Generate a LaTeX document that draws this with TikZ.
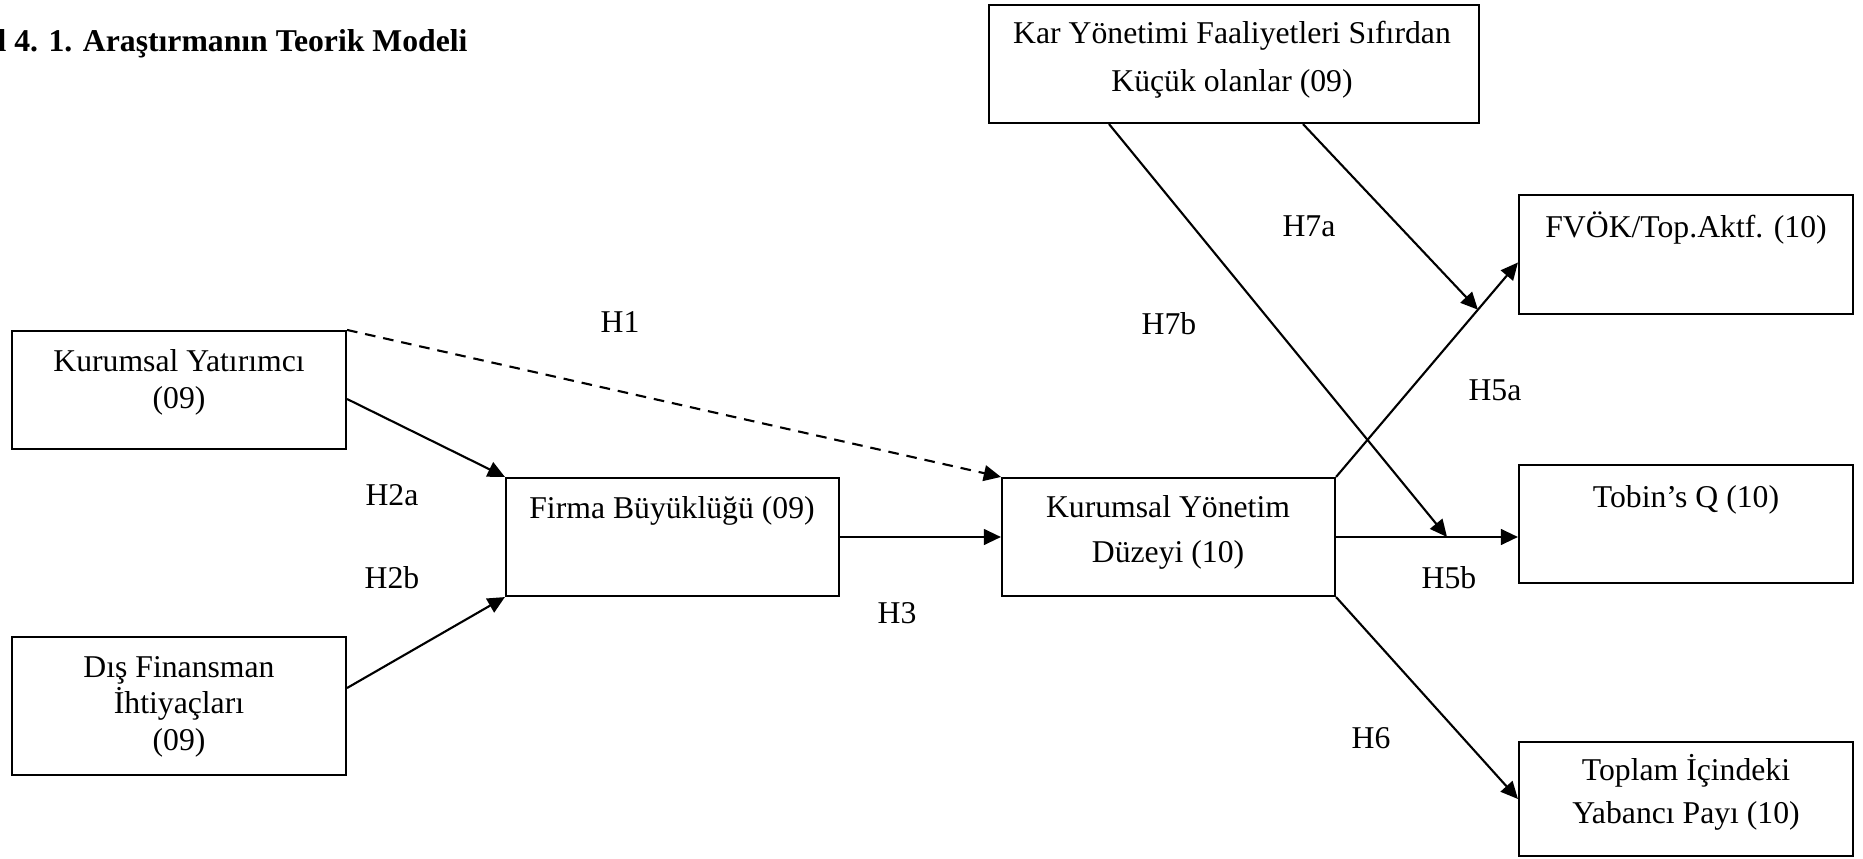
\documentclass[tikz,border=0pt]{standalone}
\usepackage{fontspec}
\setmainfont{Liberation Serif}
\usetikzlibrary{arrows.meta,calc,fit}

\begin{document}
\begin{tikzpicture}[x=0.3785pt,y=-0.3785pt,
    >={Triangle[length=6.5pt,width=6pt]},
    kutu/.style={draw,line width=0.8pt,inner sep=0pt},
    yazi/.style={align=center,inner sep=0pt,anchor=base,font=\fontsize{12pt}{14pt}\selectfont},
    etiket/.style={inner sep=0pt,anchor=base,font=\fontsize{12pt}{14pt}\selectfont},
    ok/.style={line width=0.8pt,->}]
    \useasboundingbox (0,0) rectangle (1863,859);

    \node[anchor=base west,inner sep=0pt,font=\fontsize{12pt}{14pt}\selectfont\bfseries] (baslik) at (-3,52) {l 4. 1. Araştırmanın Teorik Modeli};

    \node[kutu,fit={(12,331) (346,449)}] (ky) {};
    \node[kutu,fit={(12,637) (346,775)}] (df) {};
    \node[kutu,fit={(506,478) (839,596)}] (fb) {};
    \node[kutu,fit={(1002,478) (1335,596)}] (kyd) {};
    \node[kutu,fit={(989,5) (1479,123)}] (kar) {};
    \node[kutu,fit={(1519,195) (1853,314)}] (fvok) {};
    \node[kutu,fit={(1519,465) (1853,583)}] (tq) {};
    \node[kutu,fit={(1519,742) (1853,856)}] (yp) {};

    \node[yazi] (ky-y) at (179,408) {Kurumsal Yatırımcı\\(09)};
    \node[yazi,font=\fontsize{12pt}{13.8pt}\selectfont] (df-y) at (179,750) {Dış Finansman\\İhtiyaçları\\(09)};
    \node[yazi] (fb-y) at (672,518) {Firma Büyüklüğü (09)};
    \node[yazi,font=\fontsize{12pt}{16.7pt}\selectfont] (kyd-y) at (1168,562) {Kurumsal Yönetim\\Düzeyi (10)};
    \node[yazi,font=\fontsize{12pt}{18.5pt}\selectfont] (kar-y) at (1232,92) {Kar Yönetimi Faaliyetleri Sıfırdan\\Küçük olanlar (09)};
    \node[yazi] (fvok-y) at (1686,238) {FVÖK/Top.Aktf. (10)};
    \node[yazi] (tq-y) at (1686,507) {Tobin’s Q (10)};
    \node[yazi,font=\fontsize{12pt}{15.9pt}\selectfont] (yp-y) at (1686,823) {Toplam İçindeki\\Yabancı Payı (10)};

    \node[etiket] (h1) at (620,333) {H1};
    \node[etiket] (h2a) at (392,505) {H2a};
    \node[etiket] (h2b) at (392,588) {H2b};
    \node[etiket] (h3) at (897,623) {H3};
    \node[etiket] (h5a) at (1495,400) {H5a};
    \node[etiket] (h5b) at (1449,588) {H5b};
    \node[etiket] (h6) at (1371,748) {H6};
    \node[etiket] (h7a) at (1309,237) {H7a};
    \node[etiket] (h7b) at (1169,335) {H7b};

    \coordinate (fvok-uc) at ($(fvok.west)+(0,8)$);
    \coordinate (tq-uc) at (kyd.east -| tq.west);
    \coordinate (h7a-uc) at ($(kyd.north east)!0.78!(fvok-uc)$);
    \coordinate (h7b-uc) at ($(kyd.east)!0.61!(tq-uc)$);

    \draw[ok] ($(ky.east)+(0,9)$) -- (fb.north west);
    \draw[ok] ($(df.east)+(0,-18)$) -- (fb.south west);
    \draw[ok,dash pattern=on 4pt off 3pt] (ky.north east) -- (kyd.north west);
    \draw[ok] (fb.east) -- (kyd.west);
    \draw[ok] (kyd.north east) -- (fvok-uc);
    \draw[ok] (kyd.east) -- (tq-uc);
    \draw[ok] (kyd.south east) -- (yp.west);
    \draw[ok] ($(kar.south)+(69,0)$) -- (h7a-uc);
    \draw[ok] ($(kar.south)+(-125,0)$) -- (h7b-uc);
\end{tikzpicture}
\end{document}
